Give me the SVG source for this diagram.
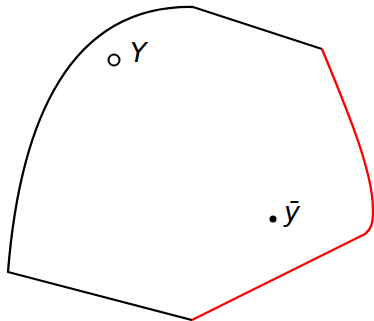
<svg xmlns="http://www.w3.org/2000/svg" width="374" height="321" viewBox="0 0 374 321">
<style>
.k{fill:none;stroke:#000;stroke-width:2.3;stroke-linejoin:round}
.r{fill:none;stroke:#f00;stroke-width:2.3;stroke-linejoin:round}
.t{font-family:"DejaVu Sans",sans-serif;font-style:italic;font-size:27px;fill:#000}
</style>
<rect width="374" height="321" fill="#fff"/>
<g id="connectors">
<path class="k" d="M192,320 L8,272 C20,120 70,5 193,7 L322,49"/>
<path class="r" d="M322,49 C345,105 373,170 373,210 C373,225 371,229 365,234 L192,320"/>
</g>
<g id="Y">
<circle cx="114" cy="60" r="5.5" fill="#fff" stroke="#000" stroke-width="2"/>
<text class="t" x="130" y="62">Y</text>
</g>
<g id="ybar">
<circle cx="273" cy="219" r="3.5" fill="#000"/>
<text class="t" x="284" y="221">ȳ</text>
</g>
</svg>
